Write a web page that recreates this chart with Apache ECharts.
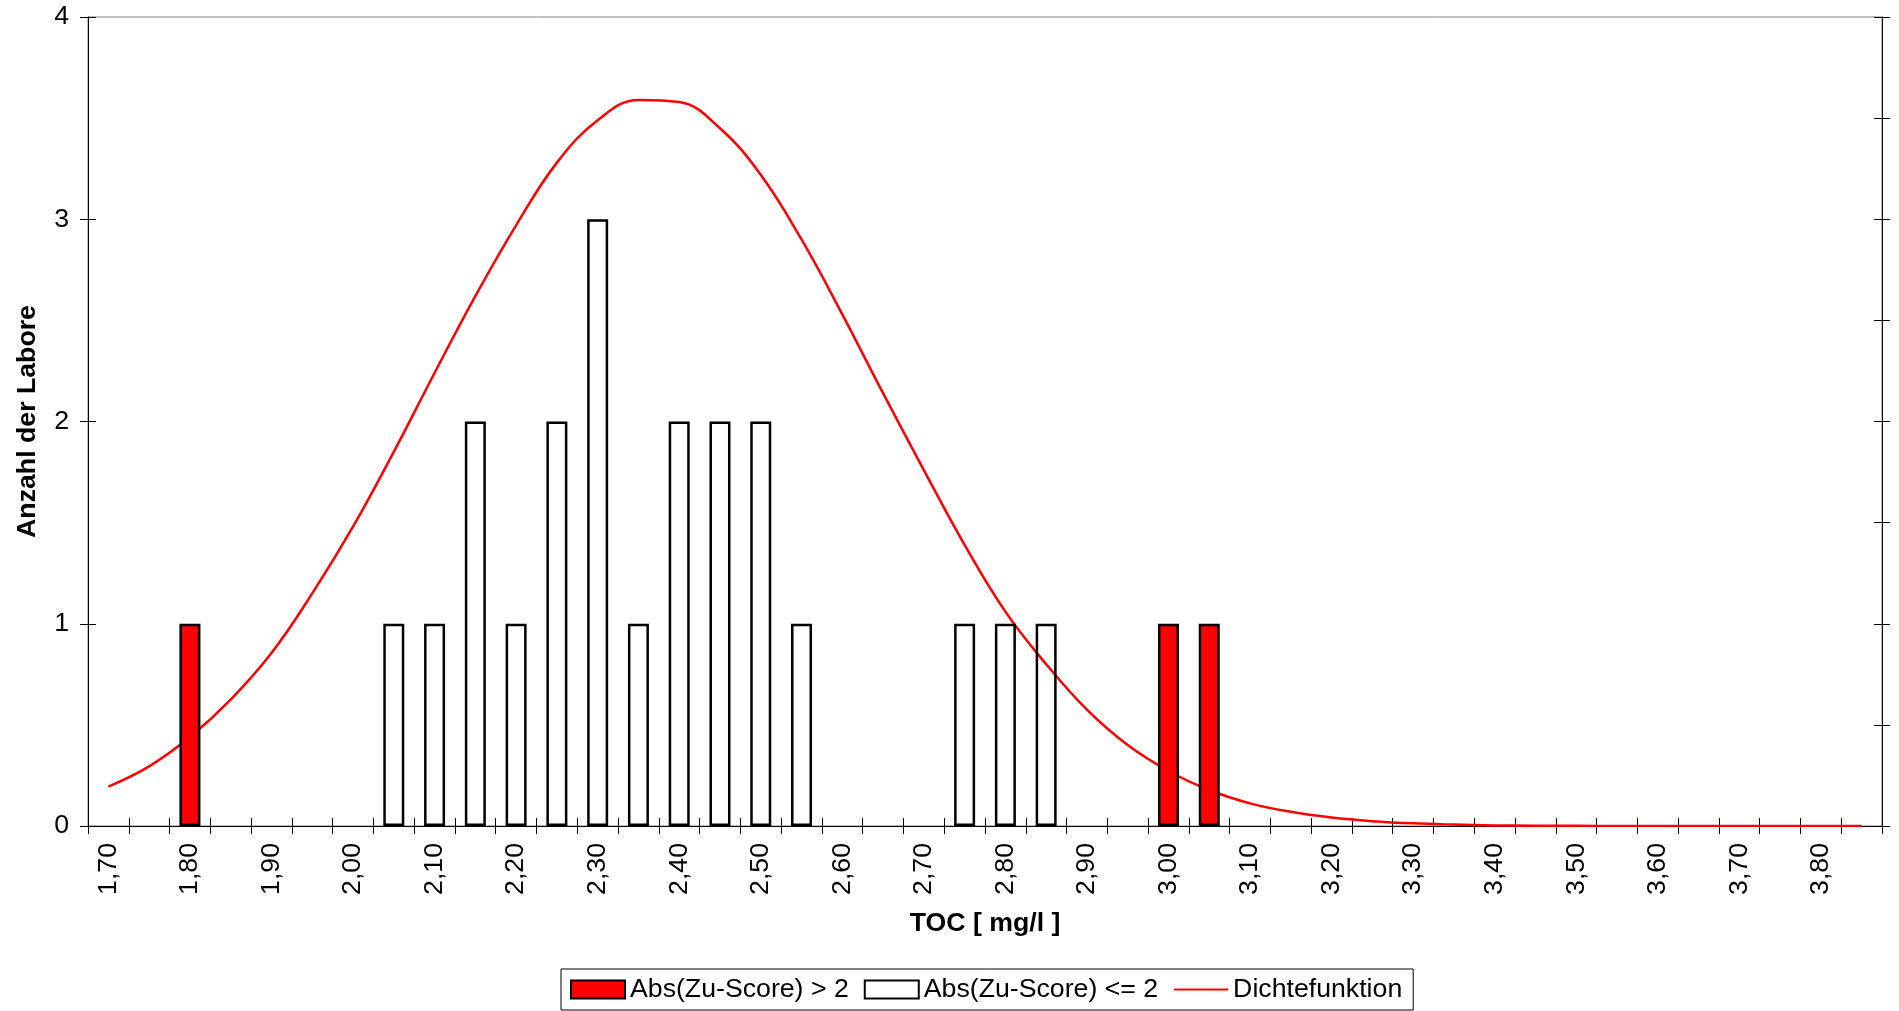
<!DOCTYPE html>
<html>
<head>
<meta charset="utf-8">
<script src="https://cdn.jsdelivr.net/npm/echarts@6/dist/echarts.min.js"></script>
<style>
html,body{margin:0;padding:0;background:#fff;}
#chart{width:1899px;height:1011px;}
</style>
</head>
<body>
<div id="chart"></div>
<script>
// Categories (TOC in mg/l, 0.05 steps) as tick labels
const categories = ['1,70','1,75','1,80','1,85','1,90','1,95','2,00','2,05','2,10','2,15','2,20','2,25','2,30','2,35','2,40','2,45','2,50','2,55','2,60','2,65','2,70','2,75','2,80','2,85','2,90','2,95','3,00','3,05','3,10','3,15','3,20','3,25','3,30','3,35','3,40','3,45','3,50','3,55','3,60','3,65','3,70','3,75','3,80','3,85'];
// Number of labs with |Zu-Score| > 2
const countsOutlier = [0,0,1,0,0,0,0,0,0,0,0,0,0,0,0,0,0,0,0,0,0,0,0,0,0,0,1,1,0,0,0,0,0,0,0,0,0,0,0,0,0,0,0,0];
// Number of labs with |Zu-Score| <= 2
const countsOk      = [0,0,0,0,0,0,0,1,1,2,1,2,3,1,2,2,2,1,0,0,0,1,1,1,0,0,0,0,0,0,0,0,0,0,0,0,0,0,0,0,0,0,0,0];
// Density function (in y-axis units)
const density = [0.195,0.295,0.44,0.625,0.855,1.15,1.48,1.85,2.24,2.62,2.97,3.28,3.49,3.59,3.58,3.45,3.22,2.90,2.53,2.14,1.76,1.39,1.06,0.80,0.575,0.40,0.272,0.178,0.112,0.070,0.042,0.024,0.013,0.007,0.003,0.0015,0.0007,0.0003,0.0001,0,0,0,0,0];
const yTicks = [0,1,2,3,4];

const FONT = "'Liberation Sans', Arial, sans-serif";
const FS = 26.7;
const chart = echarts.init(document.getElementById('chart'), null, {renderer:'canvas'});
const toBar = arr => arr.map(v => v === 0 ? '-' : v);

const option = {
  backgroundColor: '#ffffff',
  animation: false,
  textStyle: {fontFamily: FONT, color: '#000'},
  grid: {left: 88, right: 17, top: 17, bottom: 185, show: true, borderColor: '#808080', borderWidth: 1, backgroundColor: 'transparent'},
  legend: {
    left: 561, top: 969,
    selectedMode: false,
    backgroundColor: '#fff',
    borderColor: '#000', borderWidth: 1,
    padding: [7, 11, 7, 9],
    itemWidth: 54, itemHeight: 18, itemGap: 15,
    textStyle: {fontFamily: FONT, fontSize: FS, color: '#000'},
    data: [
      {name: 'Abs(Zu-Score) > 2', icon: 'rect'},
      {name: 'Abs(Zu-Score) <= 2', icon: 'rect'},
      {name: 'Dichtefunktion', itemStyle: {opacity: 0}}
    ]
  },
  xAxis: [
    {
      type: 'category', data: categories, position: 'bottom', boundaryGap: true,
      axisLine: {show: true, lineStyle: {color: '#000', width: 1}},
      axisTick: {show: true, interval: 0, length: 8, inside: false, lineStyle: {color: '#000'}},
      axisLabel: {interval: 1, rotate: 90, fontSize: FS, fontFamily: FONT, color: '#000', margin: 17},
      splitLine: {show: false},
      name: 'TOC [ mg/l ]', nameLocation: 'middle', nameGap: 84,
      nameTextStyle: {fontFamily: FONT, fontSize: FS, fontWeight: 'bold', color: '#000'}
    },
    {
      type: 'category', data: categories, position: 'bottom', boundaryGap: true,
      axisLine: {show: false},
      axisTick: {show: true, interval: 0, length: 8, inside: true, lineStyle: {color: '#000'}},
      axisLabel: {show: false}, splitLine: {show: false}
    }
  ],
  yAxis: [
    {
      type: 'value', min: yTicks[0], max: yTicks[yTicks.length-1], interval: 1, position: 'left',
      axisLine: {show: true, lineStyle: {color: '#000', width: 1}},
      axisTick: {show: true, length: 8, inside: false, lineStyle: {color: '#000'}},
      axisLabel: {fontSize: FS, fontFamily: FONT, color: '#000', margin: 19},
      splitLine: {show: false},
      name: 'Anzahl der Labore', nameLocation: 'middle', nameGap: 47,
      nameTextStyle: {fontFamily: FONT, fontSize: FS, fontWeight: 'bold', color: '#000'}
    },
    {
      type: 'value', min: 0, max: 4, interval: 1, position: 'left',
      axisLine: {show: false},
      axisTick: {show: true, length: 8, inside: true, lineStyle: {color: '#000'}},
      axisLabel: {show: false}, splitLine: {show: false}
    },
    {
      type: 'value', min: 0, max: 4, interval: 0.5, position: 'right',
      axisLine: {show: true, lineStyle: {color: '#000', width: 1}},
      axisTick: {show: true, length: 8, inside: false, lineStyle: {color: '#000'}},
      axisLabel: {show: false}, splitLine: {show: false}
    },
    {
      type: 'value', min: 0, max: 4, interval: 0.5, position: 'right',
      axisLine: {show: false},
      axisTick: {show: true, length: 8, inside: true, lineStyle: {color: '#000'}},
      axisLabel: {show: false}, splitLine: {show: false}
    }
  ],
  series: [
    {
      name: 'Dichtefunktion', type: 'line', xAxisIndex: 0, yAxisIndex: 0,
      data: density, smooth: 0.4, symbol: 'none', showSymbol: false, z: 1,
      lineStyle: {color: '#FF0000', width: 2.5}, itemStyle: {color: '#FF0000'}
    },
    {
      name: 'Abs(Zu-Score) > 2', type: 'bar', xAxisIndex: 0, yAxisIndex: 0,
      data: toBar(countsOutlier), barWidth: 21, barGap: '-100%', z: 3,
      itemStyle: {color: '#FF0000', borderColor: '#000', borderWidth: 2.5}
    },
    {
      name: 'Abs(Zu-Score) <= 2', type: 'bar', xAxisIndex: 0, yAxisIndex: 0,
      data: toBar(countsOk), barWidth: 21, barGap: '-100%', z: 3,
      itemStyle: {color: 'rgba(255,255,255,0)', borderColor: '#000', borderWidth: 2.5}
    }
  ]
};
chart.setOption(option);
</script>
</body>
</html>
